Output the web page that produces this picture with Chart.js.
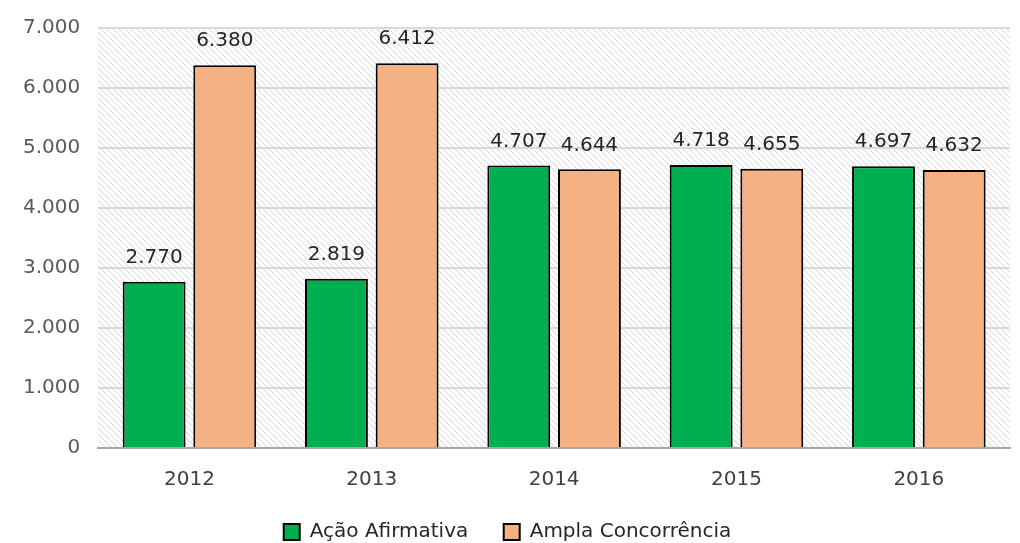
<!DOCTYPE html>
<html>
<head>
<meta charset="utf-8">
<script src="https://cdn.jsdelivr.net/npm/chart.js@4/dist/chart.umd.min.js"></script>
<style>
  html, body { margin: 0; padding: 0; background: #fff; }
  #wrap { width: 1020px; height: 543px; }
</style>
</head>
<body>
<div id="wrap"><canvas id="grafico"></canvas></div>
<script>
var anos = ['2012', '2013', '2014', '2015', '2016'];
var acaoAfirmativa = [2770, 2819, 4707, 4718, 4697];
var amplaConcorrencia = [6380, 6412, 4644, 4655, 4632];

var fonte = '"DejaVu Sans", sans-serif';

function formatarMilhar(v) {
    var s = String(Math.round(v));
    return s.replace(/\B(?=(\d{3})+(?!\d))/g, '.');
}

// fundo hachurado da área do gráfico
function criarHachura() {
    var c = document.createElement('canvas');
    c.width = 6; c.height = 6;
    var g = c.getContext('2d');
    g.fillStyle = '#ffffff';
    g.fillRect(0, 0, 6, 6);
    g.strokeStyle = '#d6d6d6';
    g.lineWidth = 1;
    g.beginPath();
    g.moveTo(-2, -2); g.lineTo(8, 8);
    g.moveTo(-2, 4); g.lineTo(2, 8);
    g.moveTo(4, -2); g.lineTo(8, 2);
    g.stroke();
    return c;
}

var fundoHachurado = {
    id: 'fundoHachurado',
    beforeDraw: function(chart) {
        var a = chart.chartArea;
        var ctx = chart.ctx;
        ctx.save();
        ctx.fillStyle = ctx.createPattern(criarHachura(), 'repeat');
        ctx.fillRect(a.left, a.top, a.right - a.left, a.bottom - a.top);
        ctx.restore();
    }
};

var rotulos = {
    id: 'rotulos',
    afterDatasetsDraw: function(chart) {
        var ctx = chart.ctx;
        ctx.save();
        ctx.font = '20px ' + fonte;
        ctx.fillStyle = '#262626';
        ctx.textAlign = 'center';
        ctx.textBaseline = 'bottom';
        chart.data.datasets.forEach(function(ds, i) {
            chart.getDatasetMeta(i).data.forEach(function(bar, j) {
                ctx.fillText(formatarMilhar(ds.data[j]), bar.x, bar.y - 14);
            });
        });
        ctx.restore();
    }
};

var ctx = document.getElementById('grafico').getContext('2d');
new Chart(ctx, {
    type: 'bar',
    data: {
        labels: anos,
        datasets: [{
            label: 'Ação Afirmativa',
            data: acaoAfirmativa,
            backgroundColor: '#00b050',
            borderColor: '#000000',
            borderWidth: 2,
            barPercentage: 0.89,
            categoryPercentage: 0.775
        }, {
            label: 'Ampla Concorrência',
            data: amplaConcorrencia,
            backgroundColor: '#f4b183',
            borderColor: '#000000',
            borderWidth: 2,
            barPercentage: 0.89,
            categoryPercentage: 0.775
        }]
    },
    options: {
        responsive: true,
        maintainAspectRatio: false,
        animation: false,
        layout: { padding: { top: -9, right: 10, left: 5, bottom: -9 } },
        plugins: {
            legend: {
                position: 'bottom',
                labels: {
                    font: { size: 20, family: fonte },
                    color: '#262626',
                    boxWidth: 16,
                    boxHeight: 16,
                    padding: 10,
                    generateLabels: function(chart) {
                        var itens = Chart.defaults.plugins.legend.labels.generateLabels(chart);
                        // espaço extra entre os itens da legenda
                        itens[0].text = itens[0].text + '    ';
                        return itens;
                    }
                }
            },
            tooltip: { enabled: false }
        },
        scales: {
            x: {
                grid: { display: false, drawTicks: false },
                border: { color: '#a6a6a6', width: 2 },
                ticks: {
                    font: { size: 20, family: fonte },
                    color: '#404040',
                    padding: 20
                }
            },
            y: {
                min: 0,
                max: 7000,
                grid: { color: '#d9d9d9', lineWidth: 2, drawTicks: false },
                border: { display: false },
                ticks: {
                    stepSize: 1000,
                    font: { size: 20, family: fonte, lineHeight: 1 },
                    color: '#595959',
                    padding: 18,
                    callback: function(v) { return formatarMilhar(v); }
                }
            }
        }
    },
    plugins: [fundoHachurado, rotulos]
});
</script>
</body>
</html>
